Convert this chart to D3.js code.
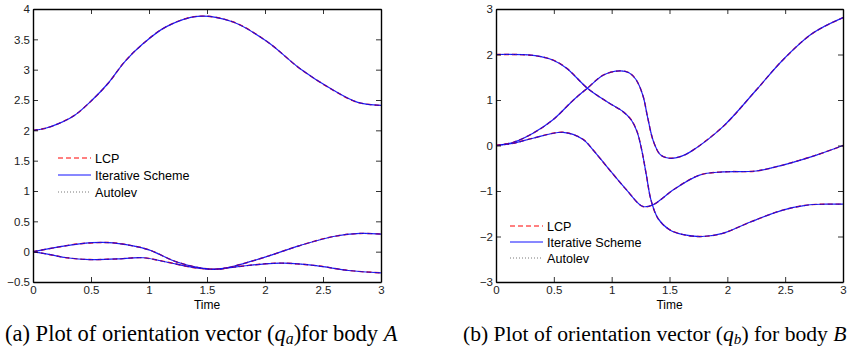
<!DOCTYPE html>
<html>
<head>
<meta charset="utf-8">
<script src="https://cdn.jsdelivr.net/npm/d3@7"></script>
<style>
  body { margin: 0; background: #fff; }
  svg { display: block; }
  .tick text { font-family: "Liberation Sans", Arial, sans-serif; font-size: 11.5px; fill: #222; }
</style>
</head>
<body>
<script>
// values (time, orientation component)
const ticksX = [0, 0.5, 1, 1.5, 2, 2.5, 3]
const ticksYa = [-0.5, 0, 0.5, 1, 1.5, 2, 2.5, 3, 3.5, 4]
const ticksYb = [-3, -2, -1, 0, 1, 2, 3]

// body A
const tA1 = [0, 0.1, 0.22, 0.36, 0.51, 0.65, 0.79, 0.95, 1.15, 1.42, 1.72, 2.02, 2.3, 2.59, 2.8, 3]
const qA1 = [2, 2.03, 2.11, 2.25, 2.5, 2.78, 3.13, 3.43, 3.71, 3.88, 3.79, 3.46, 3.02, 2.66, 2.46, 2.41]
const tA2 = [0, 0.2, 0.4, 0.65, 0.85, 1.0, 1.24, 1.45, 1.6, 1.75, 2.0, 2.3, 2.59, 2.82, 3]
const qA2 = [0, 0.07, 0.13, 0.15, 0.1, 0.03, -0.17, -0.27, -0.29, -0.23, -0.09, 0.1, 0.25, 0.3, 0.29]
const tA3 = [0, 0.15, 0.29, 0.49, 0.72, 0.95, 1.15, 1.38, 1.55, 1.75, 2.0, 2.16, 2.44, 2.72, 3]
const qA3 = [0, -0.05, -0.1, -0.13, -0.12, -0.1, -0.17, -0.26, -0.29, -0.25, -0.2, -0.19, -0.23, -0.31, -0.35]

// body B
const tB1 = [0, 0.32, 0.49, 0.61, 0.79, 0.96, 1.1, 1.17, 1.22, 1.26, 1.3, 1.34, 1.4, 1.5, 1.62, 1.78, 1.96, 2.2, 2.48, 2.69, 2.85, 3]
const qB1 = [2, 1.98, 1.88, 1.7, 1.26, 0.96, 0.74, 0.56, 0.3, -0.1, -0.65, -1.2, -1.6, -1.85, -1.96, -2.0, -1.93, -1.68, -1.42, -1.31, -1.29, -1.29]
const tB2 = [0, 0.15, 0.32, 0.49, 0.67, 0.79, 0.93, 1.07, 1.15, 1.21, 1.27, 1.31, 1.36, 1.42, 1.5, 1.6, 1.68, 1.96, 2.25, 2.48, 2.74, 3]
const qB2 = [0, 0.07, 0.27, 0.56, 1.0, 1.26, 1.55, 1.64, 1.6, 1.45, 1.1, 0.63, 0.1, -0.2, -0.28, -0.24, -0.14, 0.41, 1.22, 1.88, 2.47, 2.81]
const tB3 = [0, 0.15, 0.32, 0.58, 0.75, 0.84, 0.96, 1.13, 1.27, 1.36, 1.42, 1.53, 1.76, 1.96, 2.25, 2.48, 2.77, 3]
const qB3 = [0, 0.05, 0.16, 0.29, 0.14, -0.1, -0.47, -0.98, -1.34, -1.3, -1.2, -0.98, -0.65, -0.58, -0.56, -0.43, -0.21, 0]

const methods = ["LCP", "Iterative Scheme", "Autolev"]

const svg = d3.select("body").append("svg")
    .attr("width", 853)
    .attr("height", 354)

function zip(t, q) {
    return t.map((d, i) => [d, q[i]])
}

function panel(p) {
    const x = d3.scaleLinear().domain([0, 3]).range([p.left, p.right])
    const y = d3.scaleLinear().domain(p.ydom).range([p.bottom, p.top])
    const g = svg.append("g")

    const line = d3.line()
        .x(d => x(d[0]))
        .y(d => y(d[1]))
        .curve(d3.curveCatmullRom.alpha(0.5))

    // each method gives the same curve, so they sit on top of each other
    p.series.forEach(s => {
        const pts = zip(s[0], s[1])
        g.append("path").attr("d", line(pts))
            .attr("fill", "none").attr("stroke", "#ff0000").attr("stroke-width", 1.4)
            .attr("stroke-dasharray", "5,3")
        g.append("path").attr("d", line(pts))
            .attr("fill", "none").attr("stroke", "#1010ff").attr("stroke-width", 1.2)
            .attr("opacity", 0.92)
        g.append("path").attr("d", line(pts))
            .attr("fill", "none").attr("stroke", "#000").attr("stroke-width", 0.6)
            .attr("stroke-dasharray", "1,2").attr("opacity", 0.35)
    })

    // axes, ticks pointing in, box all round
    const ax = [
        [d3.axisBottom(x).tickValues(ticksX).tickFormat(d3.format("")), "translate(0," + p.bottom + ")"],
        [d3.axisTop(x).tickValues(ticksX).tickFormat(""), "translate(0," + p.top + ")"],
        [d3.axisLeft(y).tickValues(p.yticks).tickFormat(d3.format("")), "translate(" + p.left + ",0)"],
        [d3.axisRight(y).tickValues(p.yticks).tickFormat(""), "translate(" + p.right + ",0)"]
    ]
    ax.forEach((a, i) => {
        const ag = g.append("g")
            .attr("transform", a[1])
            .call(a[0].tickSizeInner(-5).tickSizeOuter(0).tickPadding(i < 2 ? 4 : 3))
        ag.select(".domain").attr("stroke-width", 1.4)
        ag.selectAll(".tick line").attr("stroke-width", 0.8)
    })

    g.append("text")
        .attr("x", (p.left + p.right) / 2)
        .attr("y", p.bottom + 27)
        .attr("text-anchor", "middle")
        .style("font-family", "Liberation Sans, Arial, sans-serif")
        .style("font-size", "12px")
        .text("Time")

    // legend
    const styles = [
        {stroke: "#ff0000", dash: "5,3", w: 1},
        {stroke: "#1010ff", dash: null, w: 1},
        {stroke: "#555", dash: "1,2", w: 0.8}
    ]
    methods.forEach((m, i) => {
        const yy = p.legY + i * p.legStep
        g.append("line")
            .attr("x1", p.legX).attr("x2", p.legX + 33)
            .attr("y1", yy).attr("y2", yy)
            .attr("stroke", styles[i].stroke)
            .attr("stroke-width", styles[i].w)
            .attr("stroke-dasharray", styles[i].dash)
        g.append("text")
            .attr("x", p.legX + 37).attr("y", yy + 4.5)
            .style("font-family", "Liberation Sans, Arial, sans-serif")
            .style("font-size", "12.6px")
            .text(m)
    })

    // caption, font size fitted to the width it takes in the picture
    const cap = g.append("text")
        .attr("x", p.capX).attr("y", 341)
        .style("font-family", "Liberation Serif, Times New Roman, serif")
        .style("font-size", "20px")
    cap.append("tspan").text(p.capLabel + " Plot of orientation vector (")
    cap.append("tspan").style("font-style", "italic").text("q")
    const sub = cap.append("tspan").style("font-style", "italic").attr("dy", 3).text(p.sub)
    cap.append("tspan").attr("dy", -3).text(")" + p.gap + "for body ")
    cap.append("tspan").style("font-style", "italic").text(p.body)
    const len = cap.node().getComputedTextLength()
    const fs = 20 * p.capW / len
    cap.style("font-size", fs + "px")
    sub.style("font-size", (fs * 0.7) + "px")
}

panel({
    left: 33, right: 381, top: 9, bottom: 282, ydom: [-0.5, 4], yticks: ticksYa,
    series: [[tA1, qA1], [tA2, qA2], [tA3, qA3]],
    legX: 58, legY: 158, legStep: 17,
    capX: 5, capW: 396, capLabel: "(a)", sub: "a", gap: "", body: "A"
})

panel({
    left: 496, right: 843, top: 9, bottom: 282, ydom: [-3, 3], yticks: ticksYb,
    series: [[tB1, qB1], [tB2, qB2], [tB3, qB3]],
    legX: 510, legY: 226, legStep: 16,
    capX: 463, capW: 387, capLabel: "(b)", sub: "b", gap: " ", body: "B"
})
</script>
</body>
</html>
